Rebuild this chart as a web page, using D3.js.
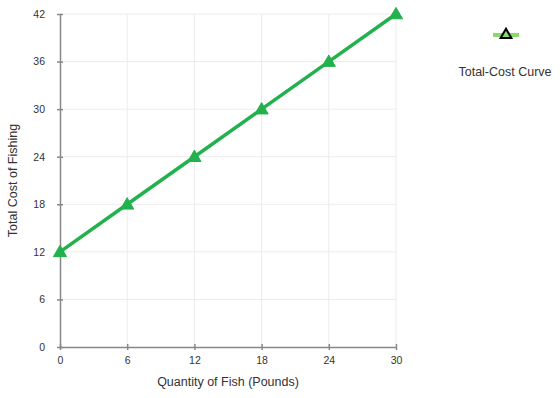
<!DOCTYPE html>
<html>
<head>
<meta charset="utf-8">
<script src="https://cdn.jsdelivr.net/npm/d3@7"></script>
<style>
  body { margin: 0; background: #fff; }
  text { font-family: "Liberation Sans", Arial, sans-serif; }
</style>
</head>
<body>
<div id="chart"></div>
<script>
const quantity = [0, 6, 12, 18, 24, 30];
const totalCost = [12, 18, 24, 30, 36, 42];
const xTicks = [0, 6, 12, 18, 24, 30];
const yTicks = [0, 6, 12, 18, 24, 30, 36, 42];
const seriesName = "Total-Cost Curve";

const width = 560, height = 398;
const margin = { top: 14, right: 164, bottom: 51, left: 60 };
const innerW = width - margin.left - margin.right;
const innerH = height - margin.top - margin.bottom;

const svg = d3.select("#chart").append("svg")
    .attr("width", width)
    .attr("height", height);

const g = svg.append("g")
    .attr("transform", `translate(${margin.left},${margin.top})`);

const x = d3.scaleLinear().domain([0, 30]).range([0, innerW]);
const y = d3.scaleLinear().domain([0, 42]).range([innerH, 0]);

// grid
g.append("g")
    .selectAll("line")
    .data(xTicks.slice(1))
    .join("line")
    .attr("x1", d => x(d)).attr("x2", d => x(d))
    .attr("y1", 0).attr("y2", innerH)
    .attr("stroke", "#ececec");

g.append("g")
    .selectAll("line")
    .data(yTicks.slice(1))
    .join("line")
    .attr("x1", 0).attr("x2", innerW)
    .attr("y1", d => y(d)).attr("y2", d => y(d))
    .attr("stroke", "#ececec");

// axes
const xAxis = g.append("g")
    .attr("transform", `translate(0,${innerH})`)
    .call(d3.axisBottom(x).tickValues(xTicks).tickSize(6).tickSizeOuter(0));
xAxis.selectAll(".tick line").attr("y1", -3).attr("y2", 3);
const yAxis = g.append("g")
    .call(d3.axisLeft(y).tickValues(yTicks).tickSize(6).tickSizeOuter(0));
yAxis.selectAll(".tick line").attr("x1", 3).attr("x2", -3);

[xAxis, yAxis].forEach(a => {
    a.select(".domain").attr("stroke", "#888").attr("stroke-width", 1.5);
    a.selectAll(".tick line").attr("stroke", "#888").attr("stroke-width", 1.5);
    a.selectAll("text")
        .attr("fill", "#333")
        .style("font-size", "10.5px")
        .style("font-family", "Liberation Sans, Arial, sans-serif");
});
xAxis.selectAll("text").attr("y", 10);
yAxis.selectAll("text").attr("x", -15);

// axis titles
svg.append("text")
    .attr("x", margin.left + innerW / 2)
    .attr("y", 386)
    .attr("text-anchor", "middle")
    .attr("fill", "#333")
    .style("font-size", "12.5px")
    .text("Quantity of Fish (Pounds)");

svg.append("text")
    .attr("transform", `translate(17,${margin.top + innerH / 2}) rotate(-90)`)
    .attr("text-anchor", "middle")
    .attr("fill", "#333")
    .style("font-size", "12.5px")
    .text("Total Cost of Fishing");

// line
const data = quantity.map((q, i) => ({ q, c: totalCost[i] }));
const green = "#22b14c";

g.append("path")
    .datum(data)
    .attr("fill", "none")
    .attr("stroke", green)
    .attr("stroke-width", 3.5)
    .attr("d", d3.line().x(d => x(d.q)).y(d => y(d.c)));

const tri = d3.symbol().type(d3.symbolTriangle).size(75);
g.append("g")
    .selectAll("path")
    .data(data)
    .join("path")
    .attr("d", tri)
    .attr("transform", d => `translate(${x(d.q)},${y(d.c) + 1})`)
    .attr("fill", green)
    .attr("stroke", green)
    .attr("stroke-width", 1);

// legend
const legend = svg.append("g").attr("transform", "translate(506,35)");
legend.append("line")
    .attr("x1", -13).attr("x2", 13)
    .attr("y1", 0).attr("y2", 0)
    .attr("stroke", "#8ad96b")
    .attr("stroke-width", 4);
legend.append("path")
    .attr("d", d3.symbol().type(d3.symbolTriangle).size(50))
    .attr("fill", "#8ad96b")
    .attr("stroke", "#000")
    .attr("stroke-width", 2);
svg.append("text")
    .attr("x", 505)
    .attr("y", 76)
    .attr("text-anchor", "middle")
    .attr("fill", "#333")
    .style("font-size", "12.5px")
    .text(seriesName);
</script>
</body>
</html>
